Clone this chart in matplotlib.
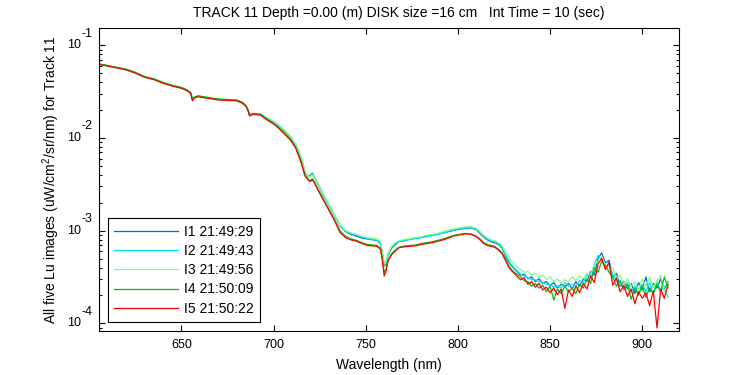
import numpy as np
import matplotlib
matplotlib.use("Agg")
import matplotlib.pyplot as plt
from matplotlib.ticker import LogLocator, FixedLocator, NullFormatter

plt.rcParams['font.family'] = ['Liberation Sans', 'DejaVu Sans']
plt.rcParams['mathtext.fontset'] = 'custom'
plt.rcParams['mathtext.rm'] = 'Liberation Sans'
plt.rcParams['mathtext.it'] = 'Liberation Sans'
plt.rcParams['font.size'] = 9

# wavelength grid (nm): coarse where the spectra are smooth, 2 nm in the noisy tail
wl_smooth = [605, 610, 615, 620, 625, 630, 635, 640, 645, 650,
             653, 655, 656, 657, 659, 662, 665, 670, 675, 680,
             683, 685, 686, 687, 688, 690, 693, 696, 700, 703,
             706, 709, 712, 715, 717, 719, 720, 721, 722, 724,
             727, 730, 733, 736, 739, 742, 745, 748, 751, 754,
             756, 758, 759, 760, 761, 762, 764, 766, 768, 771,
             774, 777, 780, 783, 786, 789, 792, 795, 798, 801,
             804, 807, 810, 812, 814, 816, 818, 820]
wl_tail = list(range(822, 915, 2))
wavelength = wl_smooth + wl_tail

# log10 of Lu, one list per image
log_i1 = [-1.202, -1.222, -1.242, -1.262, -1.300, -1.342, -1.368, -1.405, -1.436, -1.460,
          -1.486, -1.515, -1.590, -1.565, -1.550, -1.560, -1.570, -1.585, -1.590, -1.595,
          -1.620, -1.655, -1.695, -1.757, -1.745, -1.740, -1.745, -1.785, -1.830, -1.875,
          -1.930, -1.990, -2.080, -2.220, -2.370, -2.420, -2.400, -2.380, -2.420, -2.500,
          -2.620, -2.730, -2.840, -2.950, -3.010, -3.040, -3.060, -3.080, -3.090, -3.100,
          -3.105, -3.140, -3.250, -3.380, -3.360, -3.270, -3.190, -3.150, -3.120, -3.110,
          -3.090, -3.085, -3.075, -3.060, -3.050, -3.040, -3.025, -3.010, -2.995, -2.985,
          -2.975, -2.970, -2.990, -3.030, -3.070, -3.100, -3.120, -3.130,
          -3.15, -3.19, -3.28, -3.35, -3.40, -3.44, -3.48, -3.47, -3.52, -3.50,
          -3.55, -3.52, -3.57, -3.55, -3.59, -3.56, -3.62, -3.58, -3.60, -3.57,
          -3.63, -3.55, -3.60, -3.52, -3.55, -3.44, -3.48, -3.30, -3.24, -3.35,
          -3.32, -3.50, -3.46, -3.60, -3.55, -3.63, -3.57, -3.68, -3.56, -3.64,
          -3.50, -3.66, -3.57, -3.62, -3.52, -3.64, -3.55]
log_i2 = [-1.203, -1.223, -1.243, -1.263, -1.300, -1.343, -1.368, -1.406, -1.437, -1.460,
          -1.487, -1.516, -1.590, -1.566, -1.551, -1.560, -1.570, -1.585, -1.590, -1.595,
          -1.620, -1.655, -1.695, -1.757, -1.745, -1.740, -1.745, -1.780, -1.825, -1.865,
          -1.920, -1.980, -2.070, -2.210, -2.360, -2.420, -2.410, -2.390, -2.420, -2.490,
          -2.610, -2.720, -2.830, -2.940, -3.000, -3.030, -3.050, -3.070, -3.085, -3.095,
          -3.100, -3.130, -3.240, -3.370, -3.350, -3.260, -3.180, -3.140, -3.115, -3.105,
          -3.095, -3.085, -3.075, -3.065, -3.055, -3.040, -3.025, -3.005, -2.990, -2.980,
          -2.970, -2.965, -2.985, -3.020, -3.060, -3.090, -3.110, -3.120,
          -3.14, -3.18, -3.27, -3.34, -3.39, -3.43, -3.47, -3.49, -3.51, -3.53,
          -3.53, -3.55, -3.56, -3.58, -3.58, -3.61, -3.59, -3.62, -3.56, -3.60,
          -3.58, -3.60, -3.54, -3.56, -3.48, -3.50, -3.36, -3.27, -3.31, -3.40,
          -3.36, -3.48, -3.54, -3.58, -3.62, -3.56, -3.66, -3.60, -3.70, -3.58,
          -3.66, -3.56, -3.68, -3.55, -3.66, -3.60, -3.72]
log_i3 = [-1.201, -1.221, -1.241, -1.261, -1.297, -1.341, -1.366, -1.404, -1.435, -1.459,
          -1.485, -1.514, -1.588, -1.564, -1.549, -1.559, -1.569, -1.584, -1.589, -1.594,
          -1.619, -1.654, -1.694, -1.756, -1.744, -1.739, -1.745, -1.782, -1.828, -1.870,
          -1.925, -1.985, -2.075, -2.215, -2.365, -2.425, -2.415, -2.395, -2.425, -2.495,
          -2.615, -2.725, -2.835, -2.945, -3.000, -3.025, -3.040, -3.060, -3.075, -3.085,
          -3.090, -3.120, -3.230, -3.360, -3.340, -3.250, -3.170, -3.130, -3.110, -3.095,
          -3.085, -3.075, -3.065, -3.050, -3.040, -3.030, -3.010, -2.995, -2.980, -2.970,
          -2.960, -2.955, -2.975, -3.010, -3.050, -3.080, -3.100, -3.110,
          -3.13, -3.16, -3.24, -3.30, -3.35, -3.39, -3.42, -3.45, -3.44, -3.48,
          -3.46, -3.50, -3.48, -3.53, -3.50, -3.55, -3.52, -3.57, -3.53, -3.55,
          -3.50, -3.54, -3.49, -3.52, -3.46, -3.47, -3.38, -3.33, -3.28, -3.37,
          -3.44, -3.40, -3.52, -3.48, -3.58, -3.52, -3.60, -3.55, -3.64, -3.52,
          -3.60, -3.50, -3.62, -3.54, -3.48, -3.66, -3.56]
log_i4 = [-1.200, -1.218, -1.238, -1.258, -1.292, -1.337, -1.362, -1.400, -1.432, -1.455,
          -1.480, -1.510, -1.585, -1.560, -1.545, -1.555, -1.565, -1.580, -1.585, -1.590,
          -1.615, -1.650, -1.690, -1.750, -1.740, -1.737, -1.745, -1.790, -1.840, -1.890,
          -1.950, -2.010, -2.100, -2.260, -2.400, -2.450, -2.460, -2.440, -2.470, -2.550,
          -2.660, -2.770, -2.880, -3.000, -3.060, -3.090, -3.105, -3.130, -3.150, -3.155,
          -3.160, -3.190, -3.300, -3.450, -3.420, -3.320, -3.250, -3.210, -3.180, -3.165,
          -3.160, -3.155, -3.140, -3.130, -3.120, -3.105, -3.090, -3.070, -3.050, -3.040,
          -3.030, -3.035, -3.060, -3.090, -3.130, -3.150, -3.160, -3.170,
          -3.20, -3.24, -3.31, -3.39, -3.44, -3.47, -3.50, -3.54, -3.55, -3.60,
          -3.57, -3.62, -3.59, -3.66, -3.60, -3.75, -3.63, -3.68, -3.60, -3.66,
          -3.62, -3.68, -3.58, -3.62, -3.52, -3.57, -3.40, -3.45, -3.33, -3.38,
          -3.45, -3.50, -3.60, -3.54, -3.64, -3.58, -3.74, -3.62, -3.69, -3.60,
          -3.72, -3.62, -3.68, -3.58, -3.66, -3.50, -3.62]
log_i5 = [-1.205, -1.225, -1.245, -1.266, -1.300, -1.345, -1.370, -1.410, -1.440, -1.464,
          -1.490, -1.520, -1.600, -1.570, -1.555, -1.565, -1.575, -1.590, -1.595, -1.600,
          -1.625, -1.660, -1.700, -1.765, -1.750, -1.748, -1.755, -1.800, -1.850, -1.900,
          -1.960, -2.020, -2.110, -2.270, -2.410, -2.460, -2.470, -2.450, -2.480, -2.560,
          -2.670, -2.780, -2.890, -3.020, -3.075, -3.100, -3.115, -3.140, -3.160, -3.165,
          -3.170, -3.200, -3.320, -3.490, -3.440, -3.330, -3.260, -3.220, -3.185, -3.175,
          -3.170, -3.165, -3.150, -3.140, -3.130, -3.115, -3.100, -3.080, -3.055, -3.045,
          -3.035, -3.040, -3.065, -3.100, -3.140, -3.160, -3.170, -3.180,
          -3.21, -3.25, -3.33, -3.41, -3.45, -3.49, -3.53, -3.51, -3.58, -3.55,
          -3.61, -3.57, -3.64, -3.61, -3.67, -3.62, -3.69, -3.63, -3.84, -3.64,
          -3.71, -3.60, -3.67, -3.57, -3.63, -3.49, -3.56, -3.36, -3.30, -3.42,
          -3.34, -3.59, -3.51, -3.66, -3.59, -3.71, -3.63, -3.79, -3.66, -3.73,
          -3.67, -3.81, -3.65, -4.05, -3.63, -3.73, -3.58]

labels = ['I1 21:49:29', 'I2 21:49:43', 'I3 21:49:56', 'I4 21:50:09', 'I5 21:50:22']
colors = ['#0a64d2', '#00e5ff', '#80ff80', '#00c000', '#ff0000']
decades = [-1, -2, -3, -4]

fig = plt.figure(figsize=(7.5, 3.75), dpi=100)
ax = fig.add_axes([0.1316, 0.1181, 0.7741, 0.8064])

for vals, lab, col in zip([log_i1, log_i2, log_i3, log_i4, log_i5], labels, colors):
    ax.plot(wavelength, 10.0 ** np.array(vals), color=col, lw=0.9, label=lab)

ax.set_yscale('log')
ax.set_xlim(605.1, 920.1)
ax.set_ylim(10 ** -4.08, 10 ** -0.817)

ax.xaxis.set_major_locator(FixedLocator([650, 700, 750, 800, 850, 900]))
ax.yaxis.set_major_locator(LogLocator(base=10, numticks=10))
ax.yaxis.set_minor_locator(LogLocator(base=10, subs=np.arange(2, 10), numticks=10))
ax.yaxis.set_major_formatter(NullFormatter())
ax.yaxis.set_minor_formatter(NullFormatter())

# old-style "10" with a raised exponent next to each decade tick
for d in decades:
    ax.annotate('10', xy=(0, 10.0 ** d), xycoords=('axes fraction', 'data'),
                xytext=(-12.7, 0), textcoords='offset points',
                ha='right', va='center', fontsize=9)
    ax.annotate('%d' % d, xy=(0, 10.0 ** d), xycoords=('axes fraction', 'data'),
                xytext=(-12.7, 8.4), textcoords='offset points',
                ha='left', va='center', fontsize=9)

ax.tick_params(which='both', direction='in', top=True, right=True, width=0.8)
ax.tick_params(which='major', length=4.5, labelsize=9, pad=6)
ax.tick_params(which='minor', length=2.5)
for s in ax.spines.values():
    s.set_linewidth(0.8)

ax.set_xlabel('Wavelength (nm)', fontsize=10, labelpad=5)
ax.set_ylabel('All five Lu images (uW/cm$^2$/sr/nm) for Track 11', fontsize=10)
ax.yaxis.set_label_coords(-0.063, 0.5)
ax.text(0.517, 1.028, 'TRACK 11 Depth =0.00 (m) DISK size =16 cm   Int Time = 10 (sec)',
        transform=ax.transAxes, ha='center', va='bottom', fontsize=10)

leg = ax.legend(loc='lower left', bbox_to_anchor=(0.016, 0.029), borderaxespad=0,
                fontsize=10, handlelength=4.6, handletextpad=0.45, labelspacing=0.38,
                borderpad=0.45, fancybox=False, framealpha=1)
leg.get_frame().set_edgecolor('black')
leg.get_frame().set_linewidth(0.8)

fig.savefig('out.png', dpi=100)
